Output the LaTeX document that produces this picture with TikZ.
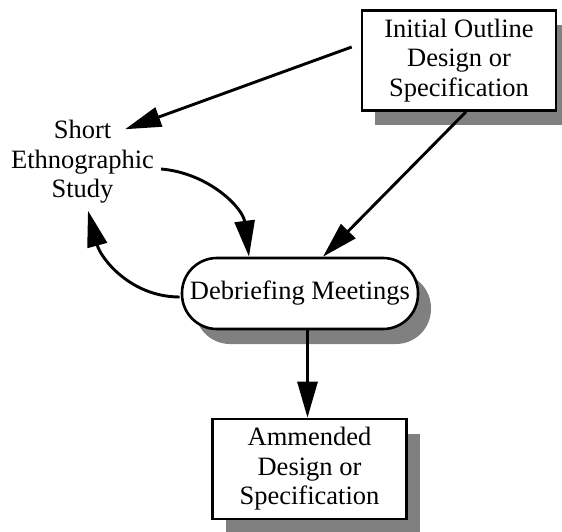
\documentclass[tikz,border=0pt]{standalone}
\usepackage{fontspec}
\setmainfont{Liberation Serif}
\usetikzlibrary{arrows.meta,shadows}
\definecolor{shadowgray}{RGB}{128,128,128}

\begin{document}
\begin{tikzpicture}[x=1pt,y=1pt,
  font=\fontsize{26.5}{29.5}\selectfont,
  arr/.style={line width=2.9pt,-{Triangle[length=36pt,width=20pt]}},
  boxshadow/.style={drop shadow={shadow xshift=13pt,shadow yshift=-15pt,fill=shadowgray,opacity=1}},
  docbox/.style={draw,line width=2.6pt,fill=white,boxshadow,align=center,inner sep=0pt,minimum width=194pt,minimum height=100pt},
  meetbox/.style={draw,line width=2.6pt,fill=white,boxshadow,rounded corners=35pt,minimum width=236pt,minimum height=71pt,inner sep=0pt}]
\useasboundingbox (0,0) rectangle (562,531);
\node[docbox] (init) at (459,470.5) {Initial Outline\\Design or\\Specification};
\node[align=center,inner sep=0pt] (study) at (82.5,369) {Short\\Ethnographic\\Study};
\node[meetbox] (meet) at (300,237.5) {Debriefing Meetings};
\node[docbox] (amend) at (309.5,62) {Ammended\\Design or\\Specification};
\draw[arr] ([xshift=-9pt,yshift=13.5pt]init.west) -- ([xshift=-29pt,yshift=-9pt]study.north east);
\draw[arr] ([xshift=7pt]init.south) -- ([xshift=23pt]meet.north);
\draw[arr] ([xshift=7pt,yshift=-7pt]study.east) to[out=-5,in=97] ([xshift=-51pt]meet.north);
\draw[arr] ([xshift=-1pt,yshift=-3.5pt]meet.west) to[out=180,in=-75] ([xshift=5.5pt,yshift=-7pt]study.south);
\draw[arr] ([xshift=7.5pt]meet.south) -- ([xshift=-2pt]amend.north);
\end{tikzpicture}
\end{document}
